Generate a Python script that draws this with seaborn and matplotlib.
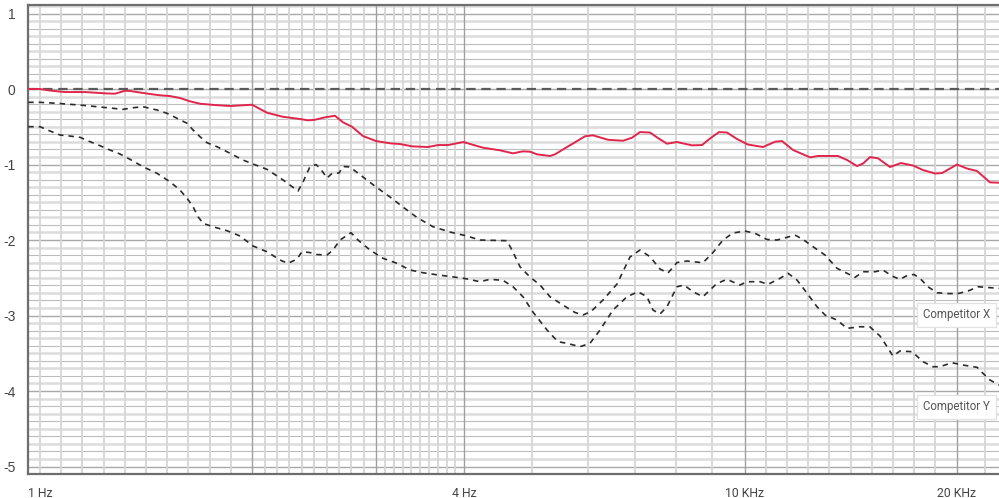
import numpy as np
import pandas as pd
import matplotlib
matplotlib.use("Agg")
import matplotlib.pyplot as plt
from matplotlib import font_manager
import seaborn as sns

# Frequency response, dB deviation
ours_freq = [0.962, 1.0, 1.033, 1.085, 1.159, 1.237, 1.278, 1.320, 1.342, 1.387, 1.433,
             1.480, 1.529, 1.580, 1.633, 1.687, 1.772, 1.861, 2.0, 2.10, 2.21, 2.339,
             2.401, 2.456, 2.538, 2.622, 2.692, 2.772, 2.874, 3.0, 3.139, 3.243, 3.373,
             3.554, 3.672, 3.794, 3.99, 4.253, 4.497, 4.692, 4.847, 4.960, 5.075, 5.295,
             5.382, 5.598, 5.746, 5.936, 6.093, 6.400, 6.721, 6.922, 7.106, 7.342, 7.536,
             7.761, 8.019, 8.422, 8.702, 8.932, 9.199, 9.443, 9.757, 10.11, 10.62, 11.05,
             11.30, 11.72, 12.39, 12.71, 13.57, 13.98, 14.44, 14.73, 15.07, 15.47, 16.09,
             16.67, 17.34, 17.92, 18.63, 19.07, 20.02, 20.69, 21.38, 22.30, 22.97]
ours_db = [0.0, 0.0, -0.02, -0.04, -0.04, -0.057, -0.062, -0.023, -0.026, -0.046, -0.066,
           -0.083, -0.093, -0.119, -0.163, -0.195, -0.212, -0.225, -0.208, -0.314, -0.367,
           -0.397, -0.415, -0.407, -0.375, -0.354, -0.441, -0.499, -0.623, -0.689, -0.719,
           -0.728, -0.759, -0.768, -0.742, -0.742, -0.702, -0.777, -0.812, -0.852, -0.825,
           -0.830, -0.865, -0.887, -0.865, -0.768, -0.706, -0.626, -0.613, -0.672, -0.685,
           -0.645, -0.570, -0.576, -0.649, -0.724, -0.702, -0.746, -0.742, -0.656, -0.570,
           -0.576, -0.662, -0.735, -0.768, -0.698, -0.689, -0.808, -0.905, -0.887, -0.887,
           -0.940, -1.020, -0.987, -0.901, -0.918, -1.033, -0.980, -1.013, -1.073, -1.119,
           -1.113, -1.000, -1.053, -1.086, -1.236, -1.241]

comp_x_freq = [0.962, 1.0, 1.057, 1.151, 1.229, 1.312, 1.355, 1.400, 1.466, 1.515, 1.565,
               1.617, 1.649, 1.687, 1.726, 1.783, 1.861, 1.941, 2.006, 2.100, 2.213, 2.324,
               2.362, 2.417, 2.465, 2.505, 2.555, 2.597, 2.657, 2.692, 2.754, 2.874, 3.0,
               3.139, 3.275, 3.429, 3.612, 3.819, 4.037, 4.212, 4.601, 4.692, 4.800, 4.960,
               5.125, 5.295, 5.524, 5.746, 5.897, 6.054, 6.296, 6.591, 6.877, 7.106, 7.342,
               7.585, 7.786, 8.019, 8.285, 8.729, 9.020, 9.319, 9.629, 10.01, 10.35, 10.76,
               11.12, 11.49, 11.79, 12.10, 12.51, 13.01, 13.53, 13.98, 14.35, 14.73, 15.32,
               15.72, 16.19, 16.62, 17.06, 17.40, 17.74, 18.21, 18.76, 19.38, 20.09, 20.76,
               21.45, 22.16, 22.97]
comp_x_db = [-0.176, -0.176, -0.189, -0.216, -0.242, -0.269, -0.248, -0.234, -0.278, -0.322,
             -0.388, -0.454, -0.543, -0.632, -0.711, -0.764, -0.851, -0.940, -0.993, -1.064,
             -1.205, -1.351, -1.232, -1.026, -1.000, -1.066, -1.179, -1.117, -1.113, -1.026,
             -1.033, -1.166, -1.298, -1.430, -1.563, -1.702, -1.824, -1.894, -1.947, -2.0,
             -2.009, -2.159, -2.354, -2.490, -2.596, -2.751, -2.861, -2.960, -2.993, -2.947,
             -2.795, -2.583, -2.225, -2.132, -2.221, -2.384, -2.437, -2.298, -2.278, -2.301,
             -2.166, -2.0, -1.907, -1.881, -1.911, -1.993, -2.0, -1.964, -1.934, -1.991,
             -2.089, -2.199, -2.375, -2.441, -2.494, -2.420, -2.420, -2.397, -2.477, -2.521,
             -2.464, -2.457, -2.507, -2.619, -2.698, -2.709, -2.709, -2.675, -2.619, -2.629,
             -2.640]

comp_y_freq = [0.962, 1.0, 1.033, 1.068, 1.103, 1.140, 1.178, 1.217, 1.257, 1.299, 1.342,
               1.400, 1.466, 1.529, 1.580, 1.617, 1.649, 1.676, 1.704, 1.760, 1.843, 1.923,
               2.006, 2.100, 2.191, 2.249, 2.316, 2.354, 2.417, 2.473, 2.555, 2.605, 2.666,
               2.763, 2.827, 2.940, 3.068, 3.212, 3.351, 3.496, 3.636, 3.819, 4.011, 4.212,
               4.352, 4.541, 4.692, 4.847, 5.008, 5.244, 5.435, 5.598, 5.840, 6.034, 6.235,
               6.505, 6.810, 7.059, 7.270, 7.413, 7.585, 7.761, 8.019, 8.204, 8.449, 8.729,
               8.932, 9.139, 9.443, 9.852, 10.08, 10.52, 10.80, 11.23, 11.53, 11.87, 12.27,
               12.67, 13.01, 13.53, 13.98, 14.58, 15.07, 15.57, 15.82, 16.24, 16.62, 17.29,
               17.92, 18.51, 18.94, 19.70, 20.42, 21.38, 21.80, 22.30, 22.97]
comp_y_db = [-0.499, -0.499, -0.556, -0.609, -0.623, -0.640, -0.698, -0.751, -0.808, -0.861,
             -0.931, -1.029, -1.117, -1.228, -1.338, -1.448, -1.559, -1.691, -1.779, -1.824,
             -1.877, -1.947, -2.079, -2.155, -2.265, -2.309, -2.252, -2.155, -2.166, -2.192,
             -2.199, -2.132, -2.0, -1.903, -2.0, -2.132, -2.242, -2.309, -2.397, -2.433,
             -2.457, -2.483, -2.510, -2.552, -2.520, -2.534, -2.619, -2.751, -2.954, -3.192,
             -3.347, -3.368, -3.413, -3.368, -3.192, -2.927, -2.751, -2.685, -2.751, -2.927,
             -2.980, -2.883, -2.619, -2.596, -2.685, -2.751, -2.662, -2.574, -2.521, -2.596,
             -2.552, -2.552, -2.587, -2.507, -2.441, -2.530, -2.706, -2.883, -2.993, -3.060,
             -3.170, -3.148, -3.152, -3.272, -3.368, -3.536, -3.470, -3.479, -3.612, -3.678,
             -3.678, -3.625, -3.656, -3.686, -3.766, -3.854, -3.921]

x_tick_values = [1, 4, 10, 20]
x_tick_labels = ["1 Hz", "4 Hz", "10 KHz", "20 KHz"]
y_tick_values = [1, 0, -1, -2, -3, -4, -5]

series_labels = {"Competitor X": (20.0, -2.99), "Competitor Y": (20.0, -4.21)}

sns.set_style("white")

available = {f.name for f in font_manager.fontManager.ttflist}
narrow = "Liberation Sans Narrow" if "Liberation Sans Narrow" in available else "Roboto"
plt.rcParams["font.family"] = ["Liberation Sans", "DejaVu Sans"]

fig = plt.figure(figsize=(9.99, 4.98), dpi=100)
ax = fig.add_axes([28 / 999, 24 / 498, 971 / 999, 469 / 498])
ax.set_xscale("log")
ax.set_xlim(0.9615, 22.97)
ax.set_ylim(-5.099, 1.113)

# horizontal grid: fine lines every 0.1 dB, integers stronger
for i, v in enumerate(np.round(np.arange(-5.0, 1.11, 0.1), 2)):
    if abs(v - round(v)) < 1e-6:
        ax.axhline(v, color="#a8a8a8", lw=1.0, zorder=1)
    elif i % 2 == 0:
        ax.axhline(v, color="#bdbdbd", lw=0.8, zorder=1)
    else:
        ax.axhline(v, color="#dcdcdc", lw=1.8, zorder=1)

# vertical grid: equal log steps inside each band
segments = [(1, 2), (2, 3), (3, 4), (10, 20), (20, 50)]
minor_x = []
for a, b in segments:
    minor_x.extend(np.geomspace(a, b, 11)[:-1])
minor_x.extend([5, 6, 7, 8, 9])
major_x = [2, 3, 4, 10, 20]
for xv in minor_x:
    if not any(abs(xv - m) < 1e-9 for m in major_x):
        ax.axvline(xv, color="#d6d6d6", lw=1.3, zorder=1)
for xv in major_x:
    ax.axvline(xv, color="#a0a0a0", lw=1.0, zorder=1)

# flat reference at 0 dB
ax.axhline(0, color="#5a5a5a", lw=1.6, dashes=(4.2, 2.6), zorder=3)

df_ours = pd.DataFrame({"freq": ours_freq, "db": ours_db})
df_x = pd.DataFrame({"freq": comp_x_freq, "db": comp_x_db})
df_y = pd.DataFrame({"freq": comp_y_freq, "db": comp_y_db})

sns.lineplot(data=df_x, x="freq", y="db", ax=ax, color="#2b2b2b", lw=1.2,
             zorder=4).lines[-1].set_dashes((3.3, 3.0))
sns.lineplot(data=df_y, x="freq", y="db", ax=ax, color="#2b2b2b", lw=1.2,
             zorder=4).lines[-1].set_dashes((3.3, 3.0))
sns.lineplot(data=df_ours, x="freq", y="db", ax=ax, color="#e0264c", lw=1.4, zorder=5)

for name, (fx, fy) in series_labels.items():
    ax.text(fx, fy, name, ha="center", va="center", fontsize=8.3, color="#555555",
            family=[narrow, "DejaVu Sans"], zorder=6,
            bbox=dict(boxstyle="square,pad=0.5", fc="white", ec="#e2e2e2", lw=0.9))

ax.set_xlabel("")
ax.set_ylabel("")
ax.set_xticks(x_tick_values)
ax.set_xticklabels(x_tick_labels, family=[narrow, "DejaVu Sans"], fontsize=8.8, color="#444444")
ax.xaxis.set_minor_locator(matplotlib.ticker.NullLocator())
ax.set_yticks(y_tick_values)
ax.set_yticklabels([str(v) for v in y_tick_values], fontsize=10, color="#444444")
ax.tick_params(axis="both", length=0)
ax.tick_params(axis="x", pad=9)
ax.tick_params(axis="y", pad=9)

for side in ["top", "left", "bottom"]:
    ax.spines[side].set_visible(True)
    ax.spines[side].set_color("#6e6e6e")
    ax.spines[side].set_linewidth(1.6)
ax.spines["right"].set_visible(False)

fig.savefig("out.png", dpi=100)
